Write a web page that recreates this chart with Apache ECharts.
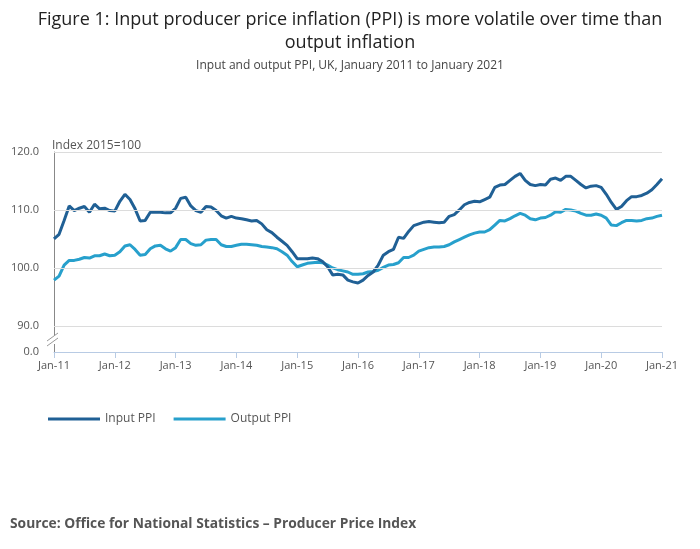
<!DOCTYPE html>
<html>
<head>
<meta charset="utf-8">
<script src="https://cdn.jsdelivr.net/npm/echarts@6/dist/echarts.min.js"></script>
<style>
  html, body { margin: 0; padding: 0; background: #fff; }
  #chart { width: 700px; height: 549px; }
</style>
</head>
<body>
<div id="chart"></div>
<script>
// monthly, Jan 2011 .. Jan 2021
const months = ['Jan', 'Feb', 'Mar', 'Apr', 'May', 'Jun', 'Jul', 'Aug', 'Sep', 'Oct', 'Nov', 'Dec']
const categories = []
for (let y = 11; y <= 21; y++) {
  for (let m = 0; m < 12; m++) {
    if (y === 21 && m > 0) break
    categories.push(months[m] + '-' + y)
  }
}

const inputPPI = [
  105.0, 105.8, 108.2, 110.7, 109.9, 110.3, 110.6, 109.6, 111.0, 110.2, 110.3, 109.9,
  109.8, 111.5, 112.7, 111.8, 110.2, 108.1, 108.2, 109.6, 109.6, 109.6, 109.5, 109.5,
  110.3, 112.0, 112.2, 110.7, 109.9, 109.6, 110.6, 110.5, 109.9, 109.0, 108.6, 108.9,
  108.6, 108.5, 108.3, 108.1, 108.2, 107.6, 106.6, 106.1, 105.3, 104.6, 103.9, 102.8,
  101.6, 101.6, 101.6, 101.7, 101.6, 101.1, 100.2, 98.8, 98.9, 98.8, 97.9, 97.6,
  97.4, 97.9, 98.7, 99.3, 100.5, 102.2, 102.8, 103.2, 105.3, 105.1, 106.3, 107.3,
  107.6, 107.9, 108.0, 107.9, 107.8, 107.9, 108.9, 109.2, 110.0, 110.9, 111.3, 111.5,
  111.4, 111.8, 112.2, 113.9, 114.3, 114.4, 115.1, 115.8, 116.3, 115.1, 114.4, 114.2,
  114.4, 114.3, 115.3, 115.5, 115.1, 115.8, 115.8, 115.1, 114.4, 113.8, 114.1, 114.2,
  113.9, 112.7, 111.3, 110.1, 110.6, 111.6, 112.3, 112.3, 112.5, 112.9, 113.5, 114.4,
  115.4
]

const outputPPI = [
  97.9, 98.6, 100.5, 101.3, 101.3, 101.5, 101.8, 101.7, 102.1, 102.1, 102.4, 102.1,
  102.2, 102.8, 103.8, 104.0, 103.2, 102.2, 102.3, 103.3, 103.8, 103.9, 103.3, 102.9,
  103.5, 104.9, 104.9, 104.2, 103.9, 104.0, 104.8, 104.9, 104.9, 104.0, 103.7, 103.7,
  103.9, 104.1, 104.1, 104.0, 103.9, 103.7, 103.6, 103.5, 103.3, 102.8, 102.2, 101.1,
  100.2, 100.5, 100.8, 100.9, 101.0, 100.9, 100.5, 100.0, 99.7, 99.5, 99.3, 98.9,
  98.9, 99.0, 99.3, 99.4, 99.6, 100.1, 100.5, 100.6, 100.9, 101.8, 101.8, 102.2,
  102.9, 103.2, 103.5, 103.6, 103.6, 103.7, 104.0, 104.5, 104.9, 105.3, 105.7, 106.0,
  106.2, 106.2, 106.6, 107.4, 108.2, 108.1, 108.5, 109.0, 109.4, 109.1, 108.5, 108.3,
  108.6, 108.7, 109.1, 109.7, 109.6, 110.1, 110.0, 109.8, 109.4, 109.1, 109.1, 109.3,
  109.1, 108.6, 107.4, 107.3, 107.8, 108.2, 108.2, 108.1, 108.2, 108.5, 108.6, 108.9,
  109.1
]

const yTicks = [90, 100, 110, 120]
const yBottom = 85.5 // drawn as 0.0 below the axis break

let myChart = echarts.init(document.getElementById('chart'))
let option = {
  animation: false,
  title: [
    {
      text: 'Figure 1: Input producer price inflation (PPI) is more volatile over time than\noutput inflation',
      left: 'center', top: 3,
      textStyle: { fontFamily: 'Open Sans', fontSize: 18, fontWeight: 'normal', color: '#222', lineHeight: 23 }
    },
    {
      text: 'Input and output PPI, UK, January 2011 to January 2021',
      left: 'center', top: 55,
      textStyle: { fontFamily: 'Open Sans', fontSize: 12, fontWeight: 'normal', color: '#444' }
    },
    {
      text: 'Source: Office for National Statistics – Producer Price Index',
      left: 5, top: 512,
      textStyle: { fontFamily: 'Open Sans', fontSize: 13.8, fontWeight: 'bold', color: '#555' }
    },
    {
      text: 'Index 2015=100',
      left: 47, top: 135,
      textStyle: { fontFamily: 'Open Sans', fontSize: 12, fontWeight: 'normal', color: '#555' }
    }
  ],
  legend: {
    left: 43, top: 408,
    itemWidth: 52, itemHeight: 3, itemGap: 18,
    icon: 'rect',
    textStyle: { fontFamily: 'Open Sans', fontSize: 12, color: '#555' },
    data: ['Input PPI', 'Output PPI']
  },
  grid: { left: 54, right: 38, top: 152, bottom: 197, containLabel: false },
  xAxis: {
    type: 'category',
    data: categories,
    boundaryGap: false,
    axisLine: { lineStyle: { color: '#b8cbe4' } },
    axisTick: { interval: 11, length: 6, lineStyle: { color: '#b8cbe4' } },
    axisLabel: { interval: 11, color: '#555', fontFamily: 'Open Sans', fontSize: 11, margin: 8 },
    splitLine: { show: false }
  },
  yAxis: {
    type: 'value',
    min: yBottom, max: 120,
    axisLine: { show: true, lineStyle: { color: '#888' } },
    axisTick: { show: false },
    splitLine: { show: false },
    axisLabel: {
      customValues: [yBottom].concat(yTicks),
      formatter: v => (v === yBottom ? '0.0' : v.toFixed(1)),
      color: '#555', fontFamily: 'Open Sans', fontSize: 11, margin: 15
    }
  },
  series: [
    {
      name: 'Input PPI',
      type: 'line',
      data: inputPPI,
      symbol: 'none',
      lineStyle: { width: 3, color: '#206095' },
      itemStyle: { color: '#206095' },
      z: 3,
      markLine: {
        silent: true, symbol: 'none', label: { show: false },
        lineStyle: { color: '#dcdcdc', type: 'solid', width: 1 },
        data: yTicks.map(v => ({ yAxis: v }))
      }
    },
    {
      name: 'Output PPI',
      type: 'line',
      data: outputPPI,
      symbol: 'none',
      lineStyle: { width: 3, color: '#27a0cc' },
      itemStyle: { color: '#27a0cc' },
      z: 2
    }
  ],
  graphic: [
    { type: 'rect', shape: { x: 50, y: 336, width: 8, height: 8 }, style: { fill: '#fff' }, z: 100 },
    { type: 'line', shape: { x1: 47, y1: 341, x2: 58, y2: 333 }, style: { stroke: '#999', lineWidth: 1 }, z: 101 },
    { type: 'line', shape: { x1: 47, y1: 346, x2: 58, y2: 338 }, style: { stroke: '#999', lineWidth: 1 }, z: 101 }
  ]
}
myChart.setOption(option)
</script>
</body>
</html>
